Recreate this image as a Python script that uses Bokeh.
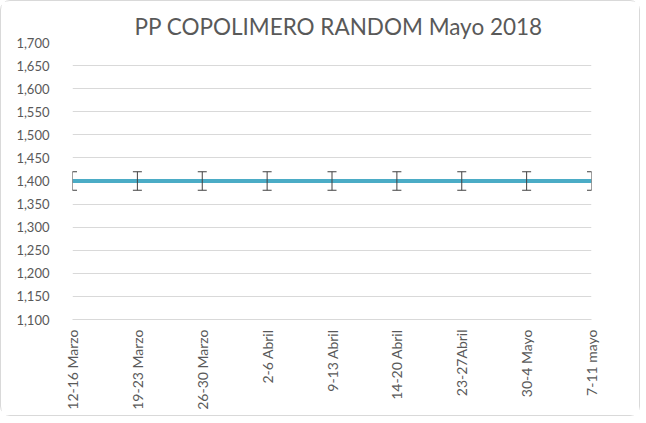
from bokeh.plotting import figure
from bokeh.models import Range1d, FixedTicker, NumeralTickFormatter, ColumnDataSource
from bokeh.embed import file_html
from bokeh.resources import INLINE
import math

categories = ["12-16 Marzo", "19-23 Marzo", "26-30 Marzo", "2-6 Abril", "9-13 Abril",
              "14-20 Abril", "23-27Abril", "30-4 Mayo", "7-11 mayo"]
values = [1400, 1400, 1400, 1400, 1400, 1400, 1400, 1400, 1400]
errors = [20, 20, 20, 20, 20, 20, 20, 20, 20]
y_ticks = [1100, 1150, 1200, 1250, 1300, 1350, 1400, 1450, 1500, 1550, 1600, 1650, 1700]
title_text = "PP COPOLIMERO RANDOM  Mayo 2018"

FONT = "Lato"
TXT = "#595959"
GRID = "#D9D9D9"

xs = list(range(len(categories)))
src = ColumnDataSource(dict(
    x=xs, y=values,
    lower=[v - e for v, e in zip(values, errors)],
    upper=[v + e for v, e in zip(values, errors)],
))

p = figure(width=640, height=416, output_backend="svg", toolbar_location=None,
           x_range=Range1d(0, len(categories) - 1),
           y_range=Range1d(y_ticks[0], y_ticks[-1]),
           min_border_left=71, min_border_right=50, min_border_top=41, min_border_bottom=98)
p.styles = {"border": "1px solid #D9D9D9", "border-radius": "10px"}
p.outline_line_color = None
p.background_fill_color = "white"
p.border_fill_color = "white"

p.title.text = title_text
p.title.text_font = FONT
p.title.text_font_size = "22.5px"
p.title.text_font_style = "normal"
p.title.text_color = TXT
p.title.align = "left"
p.title.standoff = 6
p.title.offset = 62

p.xgrid.grid_line_color = None
p.ygrid.grid_line_color = GRID
p.ygrid.grid_line_width = 1

p.yaxis.ticker = FixedTicker(ticks=y_ticks)
p.yaxis.formatter = NumeralTickFormatter(format="0,0")
p.yaxis.axis_line_color = None
p.yaxis.major_tick_line_color = None
p.yaxis.minor_tick_line_color = None
p.yaxis.major_label_standoff = 17
p.yaxis.major_label_text_font = FONT
p.yaxis.major_label_text_font_size = "13px"
p.yaxis.major_label_text_color = TXT

p.xaxis.ticker = FixedTicker(ticks=xs)
p.xaxis.major_label_overrides = {i: c for i, c in zip(xs, categories)}
p.xaxis.major_label_orientation = math.pi / 2
p.xaxis.axis_line_color = GRID
p.xaxis.major_tick_line_color = None
p.xaxis.minor_tick_line_color = None
p.xaxis.major_label_standoff = 4
p.xaxis.major_label_text_font = FONT
p.xaxis.major_label_text_font_size = "14px"
p.xaxis.major_label_text_color = TXT

p.line("x", "y", source=src, line_color="#4BACC6", line_width=4)
p.segment(x0="x", y0="lower", x1="x", y1="upper", source=src, line_color="#404040", line_width=1)
p.scatter("x", "upper", source=src, marker="dash", size=9, line_color="#404040", line_width=1.2)
p.scatter("x", "lower", source=src, marker="dash", size=9, line_color="#404040", line_width=1.2)

open("out.html", "w").write(file_html(p, INLINE))
